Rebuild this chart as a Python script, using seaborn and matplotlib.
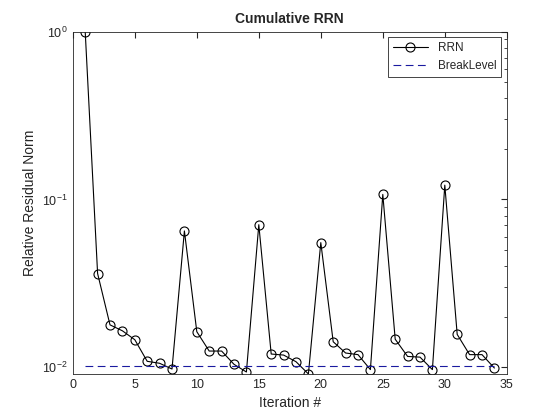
import numpy as np
import pandas as pd
import matplotlib
matplotlib.use("Agg")
import matplotlib.pyplot as plt
import seaborn as sns
from matplotlib.ticker import LogLocator, FixedLocator

iterations = list(range(1, 35))
rrn = [1.0, 0.0362, 0.0179, 0.0165, 0.0146, 0.01086, 0.01057, 0.00977, 0.0649, 0.0163,
       0.0125, 0.0125, 0.01042, 0.00938, 0.0707, 0.0120, 0.01183, 0.0108, 0.00913, 0.0553,
       0.0142, 0.01217, 0.0119, 0.00969, 0.1071, 0.0147, 0.01161, 0.0115, 0.00969, 0.1216,
       0.0157, 0.0119, 0.0119, 0.0099]
break_level = 0.0102

sns.set_style("white")
plt.rcParams['font.family'] = ['Liberation Sans', 'DejaVu Sans']

fig = plt.figure(figsize=(5.6, 4.2), dpi=100)
ax = fig.add_axes([0.13, 0.11, 0.775, 0.815])
df = pd.DataFrame({"Iteration": iterations, "RRN": rrn})
sns.lineplot(data=df, x="Iteration", y="RRN", ax=ax, color="black", lw=0.8,
             marker="o", markersize=6.5, markerfacecolor="none", markeredgecolor="black",
             markeredgewidth=0.8, label="RRN")
ax.plot([1, 34], [break_level, break_level], ls=(0, (7, 4)), color="#1a1aa0", lw=0.8, label="BreakLevel")
ax.set_yscale("log")
ax.set_xlim(0, 35)
ax.set_ylim(0.00915, 1.0)
ax.set_xticks(range(0, 36, 5))
ax.yaxis.set_major_locator(FixedLocator([0.01, 0.1, 1]))
ax.yaxis.set_minor_locator(LogLocator(base=10, subs=np.arange(2, 10)))
ax.tick_params(direction="in", which="both", top=True, right=True, labelsize=9, colors="#262626")
ax.tick_params(which="major", length=4)
ax.tick_params(which="minor", length=2)
for s in ax.spines.values():
    s.set_color("#262626"); s.set_linewidth(0.6)
ax.set_xlabel("Iteration #", fontsize=10, color="#262626")
ax.set_ylabel("Relative Residual Norm", fontsize=10, color="#262626")
ax.set_title("Cumulative RRN", fontsize=10, fontweight="bold")
leg = ax.legend(loc="upper right", fontsize=8.5, fancybox=False, framealpha=1, edgecolor="#262626",
                handlelength=3)
leg.get_frame().set_linewidth(0.6)
fig.savefig("out.png", dpi=100)
